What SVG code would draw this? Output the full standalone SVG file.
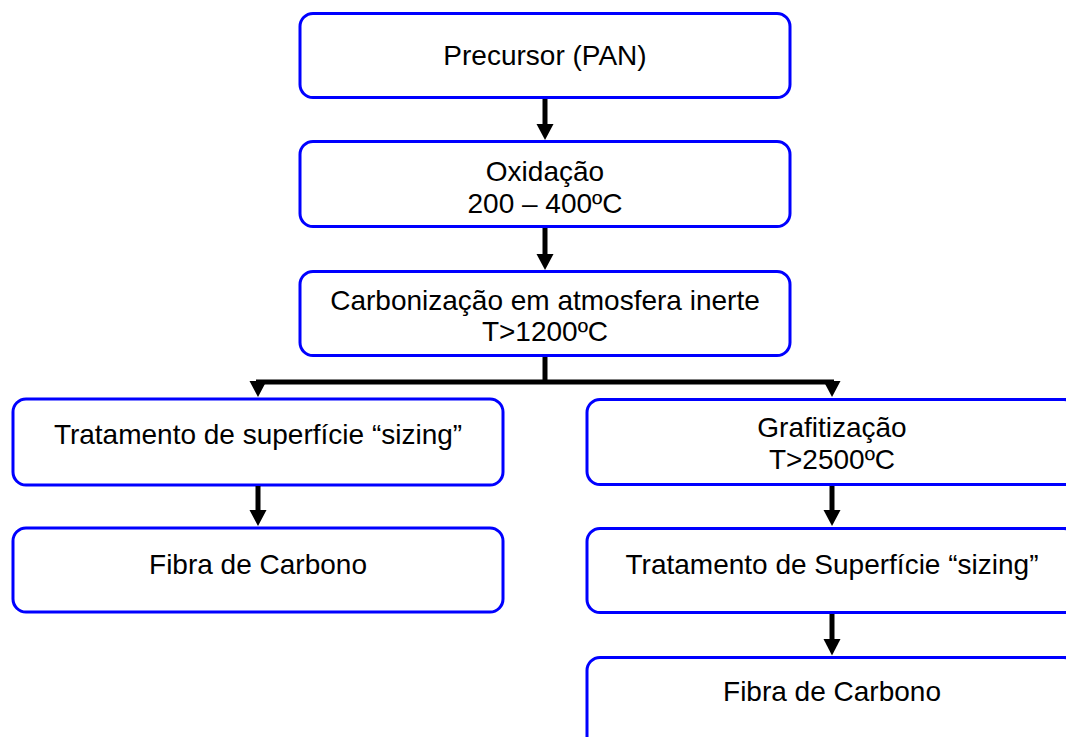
<svg xmlns="http://www.w3.org/2000/svg" width="1066" height="737" viewBox="0 0 1066 737">
<style>
.box{fill:#fff;stroke:#0000ff;stroke-width:3}
.t{font-family:"Liberation Sans",Arial,sans-serif;font-size:28px;fill:#000;text-anchor:middle}
.c{fill:none;stroke:#000;stroke-width:5}
.h{fill:#000}
</style>
<rect width="1066" height="737" fill="#fff"/>
<g id="n1"><rect class="box" x="300" y="13.5" width="490" height="84" rx="13"/><text class="t" x="545" y="65">Precursor (PAN)</text></g>
<g id="n2"><rect class="box" x="300" y="141.5" width="490" height="85" rx="13"/><text class="t" x="545" y="181">Oxidação</text><text class="t" x="545" y="213">200 – 400ºC</text></g>
<g id="n3"><rect class="box" x="300" y="271.5" width="490" height="84" rx="13"/><text class="t" x="545" y="310">Carbonização em atmosfera inerte</text><text class="t" x="545" y="341">T&gt;1200ºC</text></g>
<g id="n4"><rect class="box" x="13" y="399" width="490" height="86" rx="13"/><text class="t" x="258" y="444">Tratamento de superfície “sizing”</text></g>
<g id="n5"><rect class="box" x="13" y="528" width="490" height="84" rx="13"/><text class="t" x="258" y="574">Fibra de Carbono</text></g>
<g id="n6"><rect class="box" x="587" y="399.5" width="490" height="85" rx="13"/><text class="t" x="832" y="437">Grafitização</text><text class="t" x="832" y="469">T&gt;2500ºC</text></g>
<g id="n7"><rect class="box" x="587" y="528.5" width="490" height="84" rx="13"/><text class="t" x="832" y="574">Tratamento de Superfície “sizing”</text></g>
<g id="n8"><rect class="box" x="587" y="657.5" width="490" height="95" rx="13"/><text class="t" x="832" y="701">Fibra de Carbono</text></g>
<g id="connectors">
<line class="c" x1="545" y1="99" x2="545" y2="126"/>
<polygon class="h" points="536.5,124 553.5,124 545,140"/>
<line class="c" x1="545" y1="228" x2="545" y2="256"/>
<polygon class="h" points="536.5,254 553.5,254 545,270"/>
<line class="c" x1="545" y1="357" x2="545" y2="382"/>
<line class="c" x1="256" y1="382" x2="834" y2="382"/>
<polygon class="h" points="249.5,381 266.5,381 258,397"/>
<polygon class="h" points="823.5,381 840.5,381 832,397"/>
<line class="c" x1="258" y1="486" x2="258" y2="512"/>
<polygon class="h" points="249.5,510 266.5,510 258,526"/>
<line class="c" x1="832" y1="486" x2="832" y2="512"/>
<polygon class="h" points="823.5,510 840.5,510 832,526"/>
<line class="c" x1="832" y1="614" x2="832" y2="641"/>
<polygon class="h" points="823.5,639 840.5,639 832,655.5"/>
</g>
</svg>
